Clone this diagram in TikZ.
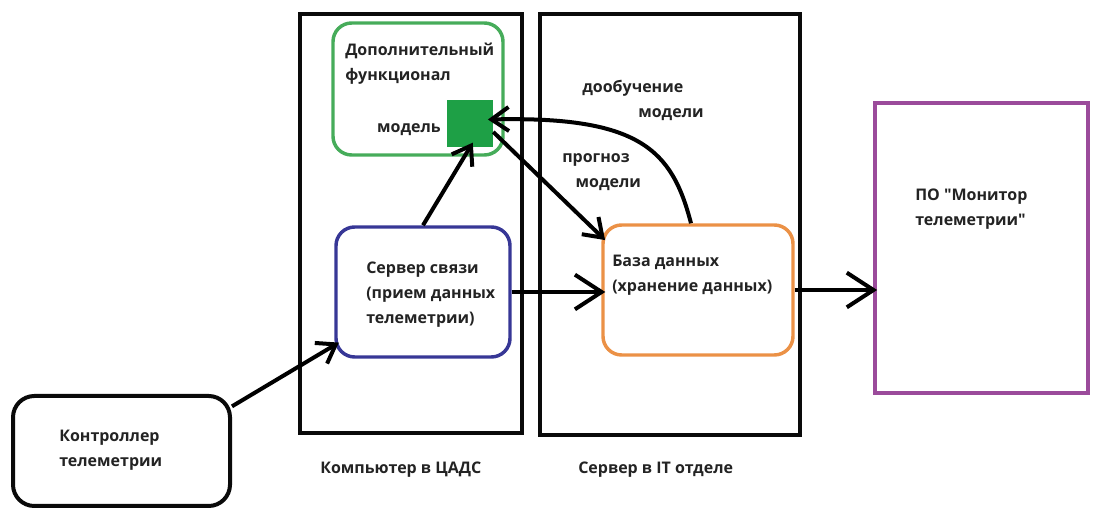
\documentclass[tikz,border=0pt]{standalone}
\usepackage{fontspec}
\setmainfont{Open Sans}[Ligatures=TeXOff]
\usetikzlibrary{arrows.meta,calc}

\definecolor{frameblack}{RGB}{10,10,10}
\definecolor{funcgreen}{RGB}{70,172,90}
\definecolor{modelgreen}{RGB}{30,160,70}
\definecolor{srvblue}{RGB}{55,55,150}
\definecolor{dborange}{RGB}{235,145,70}
\definecolor{monpurple}{RGB}{155,75,155}
\definecolor{labeltext}{RGB}{35,35,35}

\tikzset{
  frame/.style={draw=frameblack, line width=3pt, rectangle, inner sep=0pt},
  roundbox/.style={rectangle, rounded corners=14pt, line width=2.6pt, inner sep=0pt},
  lbl/.style={font=\fontsize{12}{18.75}\selectfont\bfseries, text=labeltext, align=left, inner sep=0pt},
  flow/.style={draw=black, line width=3pt, shorten >=-3pt,
    -{Straight Barb[length=20pt,width=26pt,line width=3pt]}},
  smallflow/.style={draw=black, line width=3pt, shorten >=-4pt,
    -{Straight Barb[length=13pt,width=18pt,line width=3pt]}}
}

\begin{document}
\begin{tikzpicture}[x=0.75pt,y=-0.75pt]
  \useasboundingbox (0,0) rectangle (1093,509);

  % host frames
  \node[frame, minimum width=222*0.75pt, minimum height=419*0.75pt] (cads) at (411,223.5) {};
  \node[frame, minimum width=260*0.75pt, minimum height=421*0.75pt] (itdept) at (670,224.5) {};

  % boxes
  \node[roundbox, draw=funcgreen, minimum width=170*0.75pt, minimum height=132*0.75pt] (func) at (418,89) {};
  \node[rectangle, fill=modelgreen, minimum width=46*0.75pt, minimum height=47*0.75pt, inner sep=0pt] (model) at (470,123.5) {};
  \node[roundbox, draw=srvblue, minimum width=174*0.75pt, minimum height=130*0.75pt] (srv) at (423,292) {};
  \node[roundbox, draw=dborange, minimum width=190*0.75pt, minimum height=130*0.75pt] (db) at (698,290) {};
  \node[rectangle, draw=monpurple, line width=2.8pt, minimum width=213*0.75pt, minimum height=290*0.75pt, inner sep=0pt] (mon) at (981.5,248) {};
  \node[roundbox, draw=frameblack, line width=3pt, rounded corners=16pt, minimum width=217*0.75pt, minimum height=110*0.75pt] (ctrl) at (121.5,451) {};

  % texts
  \node[lbl, anchor=west] (funct) at (345,64) {Дополнительный\\функционал};
  \node[lbl, anchor=east] (modelt) at (441,130) {модель};
  \node[lbl, anchor=west] (srvt) at (366,295) {Сервер связи\\(прием данных\\телеметрии)};
  \node[lbl, anchor=west] (dbt) at (612,275) {База данных\\(хранение данных)};
  \node[lbl, anchor=west] (mont) at (915,209) {ПО "Монитор\\телеметрии"};
  \node[lbl, anchor=west] (ctrlt) at (59,450) {Контроллер\\телеметрии};
  \node[lbl, anchor=west] (cadst) at (320,470) {Компьютер в ЦАДС};
  \node[lbl, anchor=west] (itt) at (578,470) {Сервер в IT отделе};
  \node[lbl, anchor=west] (trainl) at (582,100) {дообучение\\\hspace*{42pt}модели};
  \node[lbl, anchor=west] (predl) at (562,172) {прогноз\\\hspace*{10pt}модели};

  % connectors
  \draw[smallflow] (ctrl.22) -- (srv.211);
  \draw[smallflow] (srv.north) -- (model.south);
  \draw[flow] (srv.east) -- (srv.east -| db.west);
  \draw[flow] (db.east) -- (db.east -| mon.west);
  \draw[smallflow] (model.-20) -- (db.151);
  \draw[smallflow] (db.96) .. controls (672,150) and (640,116) .. (model.10);
\end{tikzpicture}
\end{document}
